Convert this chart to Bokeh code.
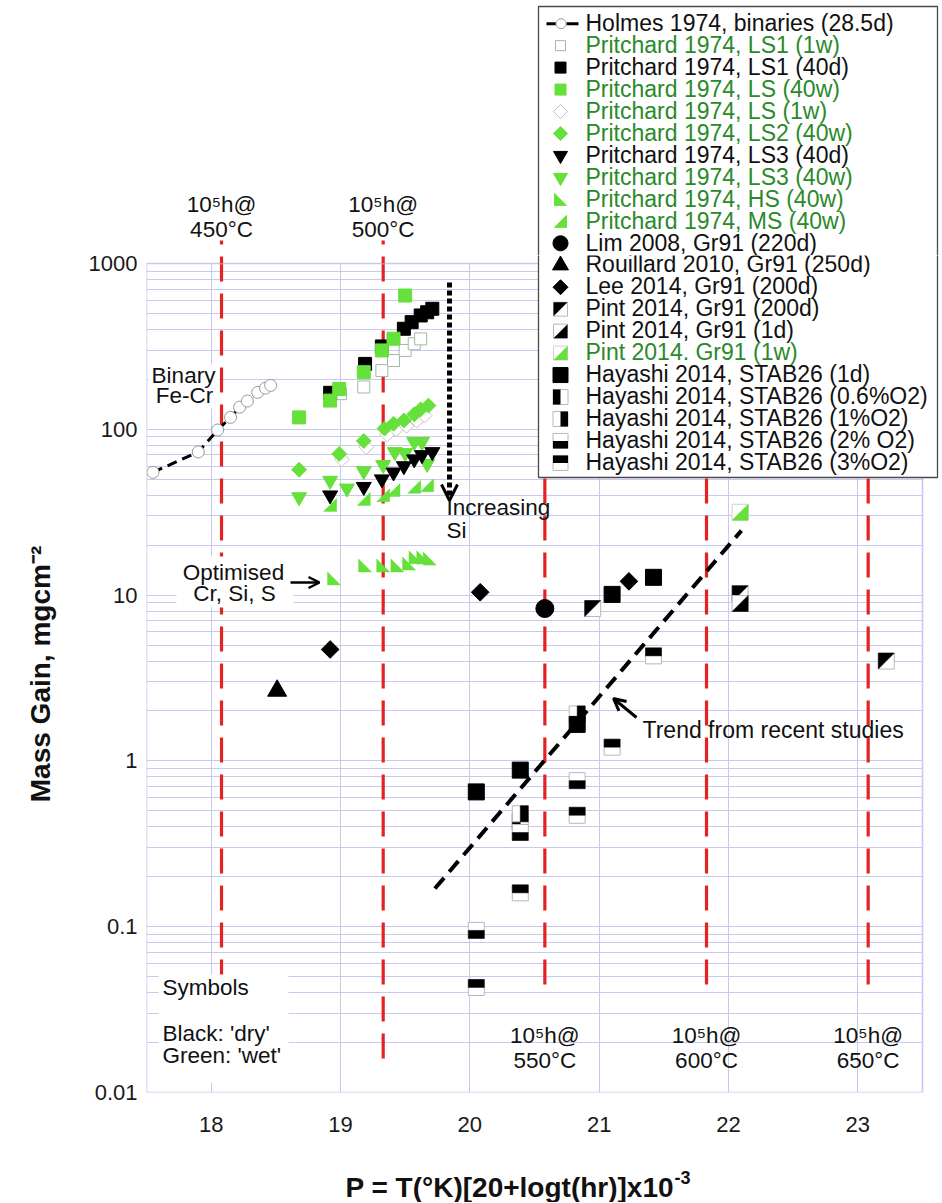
import math
from bokeh.plotting import figure
from bokeh.layouts import column
from bokeh.models import (FixedTicker, NumeralTickFormatter, Label, Arrow, OpenHead,
                          PolyAnnotation, BoxAnnotation, Range1d)
from bokeh.embed import file_html
from bokeh.resources import INLINE

# ------------------------------------------------------------------ data
x_ticks = [18, 19, 20, 21, 22, 23]
y_ticks = [0.01, 0.1, 1, 10, 100, 1000]
y_minor = [m * 10.0 ** e for e in range(-2, 3) for m in range(2, 10)]

holmes_x = [17.55, 17.90, 18.05, 18.15, 18.22, 18.28, 18.36, 18.42, 18.46]
holmes_y = [55, 73, 99, 118, 136, 148, 167, 177, 184]

ls1_1w_x = [19.00, 19.18, 19.32, 19.41, 19.50, 19.57, 19.62]
ls1_1w_y = [164, 180, 226, 260, 299, 328, 351]

ls1_40d_x = [18.92, 19.19, 19.32, 19.49, 19.55, 19.62, 19.67, 19.71]
ls1_40d_y = [166, 248, 316, 404, 443, 486, 508, 533]

ls_40w_x = [18.68, 18.92, 18.99, 19.18, 19.32, 19.41, 19.50]
ls_40w_y = [118, 149, 175, 221, 299, 352, 641]

ls_1w_x = [19.01, 19.20, 19.36, 19.43, 19.51, 19.59, 19.65]
ls_1w_y = [66, 78, 93, 100, 105, 113, 121]

ls2_40w_x = [18.68, 18.99, 19.18, 19.34, 19.41, 19.49, 19.57, 19.62, 19.68]
ls2_40w_y = [57, 71, 85, 101, 108, 113, 123, 132, 139]

ls3_40d_x = [18.92, 19.18, 19.32, 19.41, 19.49, 19.57, 19.63, 19.71]
ls3_40d_y = [40, 45, 50, 55, 60, 66, 70, 73]

ls3_40w_x = [18.68, 18.92, 19.05, 19.18, 19.33, 19.42, 19.50, 19.57, 19.63, 19.67]
ls3_40w_y = [39, 49, 44, 56, 61, 73, 72, 84, 84, 62]

hs_40w_x = [18.95, 19.19, 19.33, 19.44, 19.53, 19.58, 19.64, 19.69]
hs_40w_y = [12.6, 15.1, 15.1, 15.1, 15.5, 16.9, 16.9, 16.6]

ms_40w_x = [18.92, 19.18, 19.33, 19.41, 19.57, 19.67]
ms_40w_y = [35, 38, 40, 43, 45, 46]

lim_x = [20.58]
lim_y = [8.3]
rouillard_x = [18.51]
rouillard_y = [2.65]
lee_x = [18.92, 20.08, 21.23]
lee_y = [4.7, 10.4, 12.1]
pint200_x = [20.95, 22.09, 23.22]
pint200_y = [8.3, 10.2, 4.0]
pint1d_x = [22.09]
pint1d_y = [8.9]
pint1w_x = [22.09]
pint1w_y = [31.6]
hay1d_x = [20.05, 20.39, 20.83, 21.10, 21.42]
hay1d_y = [0.65, 0.88, 1.66, 10.1, 12.8]
hay06_x = [20.39]
hay06_y = [0.43]
hay1_x = [20.39, 20.83]
hay1_y = [0.48, 1.92]
hay2_x = [20.05, 20.39, 20.83]
hay2_y = [0.095, 0.37, 0.76]
hay3_x = [20.05, 20.39, 20.83, 21.10, 21.42]
hay3_y = [0.043, 0.16, 0.47, 1.21, 4.3]

trend_x = [19.73, 22.10]
trend_y = [0.17, 24.5]

vline_x = [18.08, 19.33, 20.58, 21.83, 23.08]
vline_bottom = [0.05, 0.015, 0.043, 0.043, 0.043]
vline_temp = ["450°C", "500°C", "550°C", "600°C", "650°C"]

legend_labels = [
    "Holmes 1974, binaries (28.5d)",
    "Pritchard 1974, LS1 (1w)",
    "Pritchard 1974, LS1 (40d)",
    "Pritchard 1974, LS (40w)",
    "Pritchard 1974, LS (1w)",
    "Pritchard 1974, LS2 (40w)",
    "Pritchard 1974, LS3 (40d)",
    "Pritchard 1974, LS3 (40w)",
    "Pritchard 1974, HS (40w)",
    "Pritchard 1974, MS (40w)",
    "Lim 2008, Gr91 (220d)",
    "Rouillard 2010, Gr91 (250d)",
    "Lee 2014, Gr91 (200d)",
    "Pint 2014, Gr91 (200d)",
    "Pint 2014, Gr91 (1d)",
    "Pint 2014. Gr91 (1w)",
    "Hayashi 2014, STAB26 (1d)",
    "Hayashi 2014, STAB26 (0.6%O2)",
    "Hayashi 2014, STAB26 (1%O2)",
    "Hayashi 2014, STAB26 (2% O2)",
    "Hayashi 2014, STAB26 (3%O2)",
]
legend_wet = [False, True, False, True, True, True, False, True, True, True,
              False, False, False, False, False, True, False, False, False, False, False]

# ------------------------------------------------------------------ style / geometry
FONT = "Liberation Sans"
GREEN = "#66e03a"
TXT_GREEN = "#2a8a2a"
GRID = "#c9c9f0"
RED = "#e32222"
OPEN_SQ = "#a4b8a4"
OPEN_DIA = "#c4c4c4"
GRAY = "#9a9a9a"
TXT = "#111111"

CW = 940                       # canvas width
X0, XN = 17.5, 23.5            # x limits of the plot box
Y0, Y1 = 0.01, 1000.0          # y limits of the plot box
FL, FT = 146, 263              # plot box left / top on the page
FWN, FHN = 776, 829            # plot box width / height
SEAM = 255                     # page row where the top strip ends and the main frame starts
FB = FT + FHN                  # plot box bottom on the page
FW = CW - FL                   # main frame width (extends right for the legend)
FH = FB - SEAM                 # main frame height (extends up above the box)
MAIN_BOTTOM = 72
BOT_TOP = FB + MAIN_BOTTOM
BOT_H = 1202 - BOT_TOP
XPP = (XN - X0) / FWN
XMAX = X0 + FW * XPP
LY0, LY1 = math.log10(Y0), math.log10(Y1)
DPP = (LY1 - LY0) / FHN
CAP = 0.36                     # baseline -> visual centre of a text line, in em


def X(px):
    return X0 + (px - FL) * XPP


def Y(py):
    return 10 ** (LY1 - (py - FT) * DPP)


def PX(x):
    return FL + (x - X0) / XPP


def make_fig(**kw):
    base = dict(output_backend="svg", toolbar_location=None,
                background_fill_color="white", border_fill_color="white")
    base.update(kw)
    try:
        return figure(title=None, **base)
    except Exception:
        return figure(**base)


def strip(height, y_top):
    f = make_fig(frame_width=FW, frame_height=height,
                 x_range=Range1d(FL, CW), y_range=Range1d(y_top + height, y_top),
                 x_axis_type=None, y_axis_type=None, outline_line_color=None,
                 min_border_left=FL, min_border_right=0, min_border_top=0, min_border_bottom=0)
    f.grid.visible = False
    return f


top = strip(SEAM, 0)
bot = strip(BOT_H, BOT_TOP)

p = make_fig(frame_width=FW, frame_height=FH,
             x_range=Range1d(X0, XMAX), y_range=Range1d(Y0, Y(SEAM)), y_axis_type="log",
             min_border_left=FL, min_border_top=0, min_border_right=0,
             min_border_bottom=MAIN_BOTTOM, outline_line_color=None)

p.xaxis.ticker = FixedTicker(ticks=x_ticks)
p.yaxis.ticker = FixedTicker(ticks=y_ticks, minor_ticks=y_minor)
p.yaxis.formatter = NumeralTickFormatter(format="0.[00]")
for ax in (p.xaxis[0], p.yaxis[0]):
    ax.axis_line_color = None
    ax.major_tick_line_color = None
    ax.minor_tick_line_color = None
    ax.major_tick_out = 0
    ax.major_tick_in = 0
    ax.minor_tick_out = 0
    ax.minor_tick_in = 0
    ax.major_label_text_font = FONT
    ax.major_label_text_font_size = "22px"
    ax.major_label_text_color = "#1a1a1a"
p.xaxis.major_label_standoff = 24
p.yaxis.major_label_standoff = 9
p.xgrid.grid_line_color = GRID
p.ygrid.grid_line_color = GRID
p.ygrid.minor_grid_line_color = GRID

p.yaxis.axis_label = "Mass Gain, mgcm\u207b\u00b2"
p.yaxis.axis_label_text_font = FONT
p.yaxis.axis_label_text_font_size = "28px"
p.yaxis.axis_label_text_font_style = "bold"
p.yaxis.axis_label_text_color = TXT
p.yaxis.axis_label_standoff = 30

S3 = math.sqrt(3)
SHAPES = {
    "sq": [(-1, -1), (1, -1), (1, 1), (-1, 1)],
    "dia": [(0, -1), (1, 0), (0, 1), (-1, 0)],
    "tri_up": [(-1, -1 / S3), (1, -1 / S3), (0, 2 / S3)],
    "tri_dn": [(-1, 1 / S3), (1, 1 / S3), (0, -2 / S3)],
    "lr": [(-1, -1), (1, -1), (1, 1)],
    "ll": [(-1, -1), (1, -1), (-1, 1)],
    "ul": [(-1, 1), (1, 1), (-1, -1)],
    "top": [(-1, 0), (1, 0), (1, 1), (-1, 1)],
    "bottom": [(-1, -1), (1, -1), (1, 0), (-1, 0)],
    "left": [(-1, -1), (0, -1), (0, 1), (-1, 1)],
    "right": [(0, -1), (1, -1), (1, 1), (0, 1)],
    "circ": [(math.cos(2 * math.pi * k / 28), math.sin(2 * math.pi * k / 28)) for k in range(28)],
}


def marker_patches(xs, ys, kind, half, fill):
    pxs, pys = [], []
    for xc, yc in zip(xs, ys):
        pxs.append([xc + dx * half * XPP for dx, dy in SHAPES[kind]])
        pys.append([yc * 10 ** (dy * half * DPP) for dx, dy in SHAPES[kind]])
    p.patches(pxs, pys, fill_color=fill, line_color=fill, line_width=0.5)


# ------------------------------------------------------------------ red reference lines
RL_TOP_PX = 240
RL = dict(line_color=RED, line_width=3.2, line_dash="25 12", line_dash_offset=21)
p.segment(x0=vline_x, y0=[Y(RL_TOP_PX)] * len(vline_x), x1=vline_x, y1=vline_bottom, **RL)
top.segment(x0=[PX(v) for v in vline_x[:2]], y0=[RL_TOP_PX] * 2,
            x1=[PX(v) for v in vline_x[:2]], y1=[SEAM] * 2, **RL)

# ------------------------------------------------------------------ data marks
p.line(holmes_x, holmes_y, line_color="black", line_width=3, line_dash="10 6")
p.scatter(holmes_x, holmes_y, marker="circle", size=12, fill_color="white", line_color=GRAY)

p.scatter(ls1_1w_x, ls1_1w_y, marker="square", size=12, fill_color="white", line_color=OPEN_SQ)
p.scatter(ls1_40d_x, ls1_40d_y, marker="square", size=13, fill_color="black", line_color="black")
p.scatter(ls_40w_x, ls_40w_y, marker="square", size=13, fill_color=GREEN, line_color=GREEN)

p.scatter(ls_1w_x, ls_1w_y, marker="square", angle=math.pi / 4, size=10.5,
          fill_color="white", line_color=OPEN_DIA)
p.scatter(ls2_40w_x, ls2_40w_y, marker="square", angle=math.pi / 4, size=10.5,
          fill_color=GREEN, line_color=GREEN)

p.scatter(ls3_40w_x, ls3_40w_y, marker="inverted_triangle", size=15, fill_color=GREEN, line_color=GREEN)
p.scatter(ls3_40d_x, ls3_40d_y, marker="inverted_triangle", size=15, fill_color="black", line_color="black")

marker_patches(ms_40w_x, ms_40w_y, "lr", 6.5, GREEN)
marker_patches(hs_40w_x, hs_40w_y, "ll", 6.5, GREEN)

p.scatter(rouillard_x, rouillard_y, marker="triangle", size=19, fill_color="black", line_color="black")
p.scatter(lee_x, lee_y, marker="square", angle=math.pi / 4, size=12.5, fill_color="black", line_color="black")
p.scatter(lim_x, lim_y, marker="circle", size=18, fill_color="black", line_color="black")

p.scatter(pint200_x, pint200_y, marker="square", size=16, fill_color="white", line_color="#b8b8b8")
marker_patches(pint200_x, pint200_y, "ul", 8, "black")
p.scatter(pint1d_x, pint1d_y, marker="square", size=16, fill_color="white", line_color="#b8b8b8")
marker_patches(pint1d_x, pint1d_y, "lr", 8, "black")
p.scatter(pint1w_x, pint1w_y, marker="square", size=16, fill_color="white", line_color="#cfcfcf")
marker_patches(pint1w_x, pint1w_y, "lr", 8, GREEN)

p.scatter(hay06_x, hay06_y, marker="square", size=16, fill_color="white", line_color="#b8b8b8")
marker_patches(hay06_x, hay06_y, "left", 8, "black")
p.scatter(hay1_x, hay1_y, marker="square", size=16, fill_color="white", line_color="#b8b8b8")
marker_patches(hay1_x, hay1_y, "right", 8, "black")
p.scatter(hay1d_x, hay1d_y, marker="square", size=16, fill_color="black", line_color="black")
p.scatter(hay2_x, hay2_y, marker="square", size=16, fill_color="white", line_color="#b8b8b8")
marker_patches(hay2_x, hay2_y, "bottom", 8, "black")
p.scatter(hay3_x, hay3_y, marker="square", size=16, fill_color="white", line_color="#b8b8b8")
marker_patches(hay3_x, hay3_y, "top", 8, "black")

p.line(trend_x, trend_y, line_color="black", line_width=4, line_dash="14 8")

# ------------------------------------------------------------------ plot box: blank outside, outline
WHITE = dict(fill_color="white", fill_alpha=1.0, line_color=None, line_alpha=0)
p.add_layout(BoxAnnotation(left=XN, right=XMAX + 1, bottom=Y0 / 2, top=Y(0), **WHITE))
p.add_layout(BoxAnnotation(left=X0 - 1, right=XMAX + 1, bottom=Y(FT - 0.6), top=Y(0), **WHITE))
p.add_layout(BoxAnnotation(left=X0, right=XN, bottom=Y0, top=Y1, fill_alpha=0,
                           line_color=GRID, line_alpha=1.0, line_width=1.6))
for i in (0, 1):
    p.add_layout(Arrow(x_start=vline_x[i], y_start=Y(RL_TOP_PX), x_end=vline_x[i], y_end=Y1,
                       end=None, **RL))


# ------------------------------------------------------------------ helpers for annotations
def add_text(fig, s, x, y, size=22.5, align="left", color=TXT, bold=False):
    fig.add_layout(Label(x=x, y=y, text=s, text_font=FONT, text_font_size=f"{size}px",
                         text_align=align, text_baseline="alphabetic", text_color=color,
                         text_font_style="bold" if bold else "normal"))


def txt_main(s, px, base, size=22.5, **kw):
    """text in the main plot, given by its page x and the page y of its baseline"""
    add_text(p, s, X(px), Y(base - CAP * size), size=size, **kw)


def txt_strip(fig, s, px, base, size=22.5, **kw):
    add_text(fig, s, px, base - CAP * size, size=size, **kw)


def white_box(l, t, r, b):
    p.add_layout(BoxAnnotation(left=X(l), right=X(r), top=Y(t), bottom=Y(b), **WHITE))


white_box(148, 364, 219, 408)
white_box(176, 556, 293, 607)
white_box(158, 974, 288, 1082)

for i, t in enumerate(vline_temp):
    if i < 2:
        txt_strip(top, "10⁵h@", PX(vline_x[i]), 212, align="center")
        txt_strip(top, t, PX(vline_x[i]), 237, align="center")
    else:
        txt_main("10⁵h@", PX(vline_x[i]), 1043, align="center")
        txt_main(t, PX(vline_x[i]), 1068, align="center")

txt_main("Binary", 183, 383, align="center")
txt_main("Fe-Cr", 184, 403.5, align="center")
txt_main("Optimised", 233, 580.5, align="center")
txt_main("Cr, Si, S", 234, 601.5, align="center")
txt_main("Increasing", 446, 515)
txt_main("Si", 446, 538)
txt_main("Trend from recent studies", 642, 738, size=23)
txt_main("Symbols", 162, 995)
txt_main("Black: 'dry'", 162, 1041)
txt_main("Green: 'wet'", 162, 1063)

p.add_layout(Arrow(x_start=X(290), y_start=Y(582), x_end=X(319), y_end=Y(582),
                   line_width=2.5, end=OpenHead(size=11, line_width=2.5)))
p.add_layout(Arrow(x_start=X(636), y_start=Y(717), x_end=X(613), y_end=Y(698),
                   line_width=3, end=OpenHead(size=12, line_width=3)))
p.add_layout(Arrow(x_start=X(449), y_start=Y(282), x_end=X(449), y_end=Y(500),
                   line_width=5, line_dash="5 3", end=OpenHead(size=16, line_width=3)))

# x axis title in the bottom strip (page pixel coordinates)
txt_strip(bot, "P = T(°K)[20+logt(hr)]x10", 345, 1197, size=28, bold=True)
txt_strip(bot, "-3", 674, 1183, size=18, bold=True)

# ------------------------------------------------------------------ legend (split over both figures)
LEG_SYMBOLS = [
    None,
    [("sq", 5, "white", OPEN_SQ)],
    [("sq", 5.5, "black", "black")],
    [("sq", 5.5, GREEN, GREEN)],
    [("dia", 7, "white", OPEN_DIA)],
    [("dia", 7, GREEN, GREEN)],
    [("tri_dn", 7, "black", "black")],
    [("tri_dn", 7, GREEN, GREEN)],
    [("ll", 6, GREEN, GREEN)],
    [("lr", 6, GREEN, GREEN)],
    [("circ", 7.5, "black", "black")],
    [("tri_up", 8, "black", "black")],
    [("dia", 7.5, "black", "black")],
    [("sq", 7, "white", "#b8b8b8"), ("ul", 7, "black", None)],
    [("sq", 7, "white", "#b8b8b8"), ("lr", 7, "black", None)],
    [("sq", 7, "white", "#cfcfcf"), ("lr", 7, GREEN, None)],
    [("sq", 7.5, "black", "black")],
    [("sq", 7.5, "white", "#b8b8b8"), ("left", 7.5, "black", None)],
    [("sq", 7.5, "white", "#b8b8b8"), ("right", 7.5, "black", None)],
    [("sq", 7.5, "white", "#b8b8b8"), ("bottom", 7.5, "black", None)],
    [("sq", 7.5, "white", "#b8b8b8"), ("top", 7.5, "black", None)],
]
BASE0, PITCH, SYM_X, TXT_X, LEG_FS = 30.7, 21.96, 560, 585, 23
LEG_BOX = (538, 6, 937, 477)


def draw_legend(fig, fx, fy, lo, hi):
    """Draw the legend rows whose glyphs reach into page rows lo..hi into fig."""
    def poly(pts, fill, line, lw=1.0):
        fig.add_layout(PolyAnnotation(xs=[fx(a) for a, b in pts], ys=[fy(b) for a, b in pts],
                                      fill_color=fill, fill_alpha=1.0,
                                      line_color=line, line_alpha=1.0, line_width=lw))

    def rect(l, t, r, b, fill, line=None, lw=1.0):
        poly([(l, b), (r, b), (r, t), (l, t)], fill, line, lw)

    def shape(kind, cx, cy, half, fill, line):
        poly([(cx + dx * half, cy - dy * half) for dx, dy in SHAPES[kind]], fill, line)

    rect(*LEG_BOX, "white", "#4a4a4a", 1.3)
    for i, lab in enumerate(legend_labels):
        base = BASE0 + i * PITCH
        cy = base - 7.5
        if base - 17 >= hi or base + 4.5 <= lo:
            continue
        if i == 0:
            rect(546, cy - 1.5, 555.5, cy + 1.5, "black")
            rect(566, cy - 1.5, 578, cy + 1.5, "black")
            shape("circ", 560.5, cy, 5, "white", GRAY)
        else:
            for kind, half, fill, line in LEG_SYMBOLS[i]:
                shape(kind, SYM_X, cy, half, fill, line)
        add_text(fig, lab, fx(TXT_X), fy(base - CAP * LEG_FS), size=LEG_FS,
                 color=TXT_GREEN if legend_wet[i] else TXT)


draw_legend(top, lambda v: v, lambda v: v, 0, SEAM)
draw_legend(p, X, Y, SEAM, 2000)

layout = column(top, p, bot, spacing=0)
open("out.html", "w").write(file_html(layout, INLINE))
